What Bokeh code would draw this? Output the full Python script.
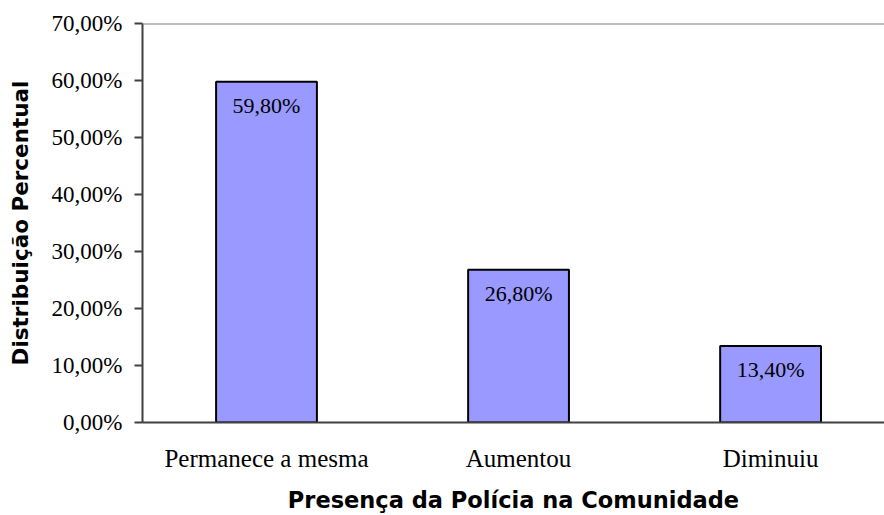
from bokeh.plotting import figure
from bokeh.models import Range1d, FixedTicker, ColumnDataSource, Span, LabelSet
from bokeh.embed import file_html
from bokeh.resources import INLINE

categories = ["Permanece a mesma", "Aumentou", "Diminuiu"]
values = [59.8, 26.8, 13.4]
value_labels = ["59,80%", "26,80%", "13,40%"]
y_ticks = [0, 10, 20, 30, 40, 50, 60, 70]
y_tick_labels = ["0,00%", "10,00%", "20,00%", "30,00%", "40,00%", "50,00%", "60,00%", "70,00%"]

xs = [i + 0.5 for i in range(len(categories))]
src = ColumnDataSource(dict(x=xs, top=values, lab=value_labels))

p = figure(width=884, height=515, output_backend="svg", toolbar_location=None,
           x_range=Range1d(0.008, 2.952), y_range=Range1d(0, 70),
           min_border_left=142, min_border_top=23, min_border_bottom=88, min_border_right=0)
p.outline_line_color = None
p.xgrid.visible = False
p.ygrid.visible = False
p.background_fill_color = "white"
p.border_fill_color = "white"

p.vbar(x="x", top="top", bottom=0, width=0.40, source=src,
       fill_color="#9999FF", line_color="black", line_width=2)

labels = LabelSet(x="x", y="top", text="lab", source=src, text_align="center",
                  text_baseline="top", y_offset=-11, text_font="Liberation Serif",
                  text_font_size="22px", text_color="black")
p.add_layout(labels)

p.add_layout(Span(location=70, dimension="width", line_color="#808080", line_width=2))

# y axis
p.yaxis.ticker = FixedTicker(ticks=y_ticks)
p.yaxis.major_label_overrides = {t: l for t, l in zip(y_ticks, y_tick_labels)}
p.yaxis.major_label_text_font = "Liberation Serif"
p.yaxis.major_label_text_font_size = "23px"
p.yaxis.major_label_text_color = "black"
p.yaxis.major_tick_out = 8
p.yaxis.major_tick_in = 0
p.yaxis.minor_tick_out = 0
p.yaxis.minor_tick_in = 0
p.yaxis.major_label_standoff = 12
p.yaxis.axis_line_color = "#404040"
p.yaxis.axis_line_width = 2
p.yaxis.major_tick_line_color = "#404040"
p.yaxis.major_tick_line_width = 2
p.yaxis.axis_label = "Distribuição Percentual"
p.yaxis.axis_label_text_font = "DejaVu Sans"
p.yaxis.axis_label_text_font_style = "bold"
p.yaxis.axis_label_text_font_size = "21.5px"
p.yaxis.axis_label_text_color = "black"
p.yaxis.axis_label_standoff = 16

# x axis
p.xaxis.ticker = FixedTicker(ticks=xs)
p.xaxis.major_label_overrides = {x: c for x, c in zip(xs, categories)}
p.xaxis.major_label_text_font = "Liberation Serif"
p.xaxis.major_label_text_font_size = "25px"
p.xaxis.major_label_text_color = "black"
p.xaxis.major_tick_out = 0
p.xaxis.major_tick_in = 0
p.xaxis.minor_tick_out = 0
p.xaxis.minor_tick_in = 0
p.xaxis.major_label_standoff = 22
p.xaxis.axis_line_color = "#404040"
p.xaxis.axis_line_width = 2
p.xaxis.axis_label = "Presença da Polícia na Comunidade"
p.xaxis.axis_label_text_font = "DejaVu Sans"
p.xaxis.axis_label_text_font_style = "bold"
p.xaxis.axis_label_text_font_size = "22.5px"
p.xaxis.axis_label_text_color = "black"
p.xaxis.axis_label_standoff = 12

open("out.html", "w").write(file_html(p, INLINE))
